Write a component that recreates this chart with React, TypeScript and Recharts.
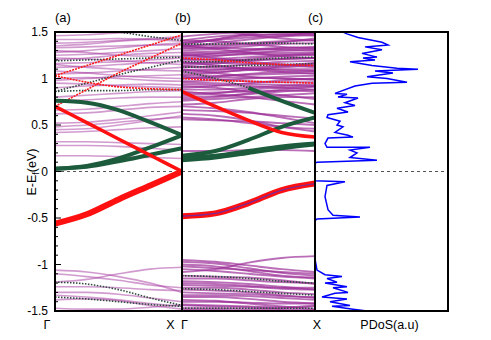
import React from "react";
import { LineChart, Line, XAxis, YAxis, ReferenceLine, ScatterChart, Scatter } from "recharts";

const FONT = "'Liberation Sans', Arial, sans-serif";

// k-path sample points (Γ = 0, X = 1)
const kPoints = [0, 0.25, 0.5, 0.75, 1];
const energyTicks = [-1.5, -1, -0.5, 0, 0.5, 1, 1.5];
const minorTicks = Array.from({ length: 31 }, (_, i) => Math.round((-1.5 + i * 0.1) * 10) / 10);

// ---- panel (a) ----
const aPurple = [
  [0.32, 0.32, 0.31, 0.3, 0.29],
  [0.28, 0.28, 0.27, 0.25, 0.23],
  [0.17, 0.17, 0.16, 0.15, 0.14],
  [0.42, 0.43, 0.45, 0.47, 0.48],
  [0.45, 0.46, 0.5, 0.55, 0.6],
  [0.48, 0.5, 0.53, 0.56, 0.58],
  [0.52, 0.53, 0.56, 0.6, 0.64],
  [0.62, 0.63, 0.66, 0.69, 0.7],
  [0.66, 0.67, 0.7, 0.73, 0.75],
  [0.76, 0.77, 0.79, 0.8, 0.8],
  [0.8, 0.82, 0.84, 0.86, 0.87],
  [0.9, 0.92, 0.93, 0.94, 0.93],
  [0.95, 0.94, 0.92, 0.91, 0.9],
  [0.98, 1.0, 1.02, 1.03, 1.04],
  [1.0, 1.01, 1.0, 0.98, 0.97],
  [1.05, 1.06, 1.08, 1.1, 1.12],
  [1.08, 1.06, 1.03, 1.01, 1.0],
  [1.12, 1.13, 1.15, 1.17, 1.18],
  [1.16, 1.17, 1.18, 1.2, 1.22],
  [1.2, 1.22, 1.25, 1.27, 1.28],
  [1.22, 1.21, 1.19, 1.17, 1.15],
  [1.25, 1.26, 1.28, 1.3, 1.32],
  [1.28, 1.3, 1.33, 1.36, 1.38],
  [1.33, 1.34, 1.35, 1.36, 1.36],
  [1.35, 1.37, 1.4, 1.42, 1.43],
  [1.38, 1.39, 1.41, 1.43, 1.45],
  [1.42, 1.42, 1.43, 1.42, 1.4],
  [1.46, 1.47, 1.49, 1.5, 1.52],
  [1.15, 1.12, 1.1, 1.09, 1.08],
  [1.3, 1.28, 1.25, 1.24, 1.24],
  [-1.06, -1.08, -1.13, -1.2, -1.3],
  [-1.1, -1.13, -1.17, -1.22, -1.25],
  [-1.19, -1.16, -1.1, -1.05, -1.03],
  [-1.24, -1.24, -1.25, -1.27, -1.28],
  [-1.3, -1.3, -1.32, -1.36, -1.4],
  [-1.33, -1.35, -1.38, -1.42, -1.45],
  [-1.47, -1.48, -1.48, -1.46, -1.43],
  [-1.38, -1.37, -1.39, -1.44, -1.48],
];
const aDotted = [
  [0.86, 0.87, 0.87, 0.88, 0.88],
  [0.86, 0.95, 1.04, 1.12, 1.2],
  [1.19, 1.2, 1.21, 1.22, 1.23],
  [1.56, 1.53, 1.5, 1.45, 1.41],
  [-1.19, -1.21, -1.27, -1.36, -1.44],
  [-1.35, -1.37, -1.4, -1.43, -1.45],
];
const aThinRed = [
  [1.03, 1.14, 1.25, 1.36, 1.47],
  [0.7, 0.88, 1.06, 1.22, 1.38],
  [1.03, 0.96, 0.91, 0.89, 0.88],
];
const aGreen = [
  [0.76, 0.74, 0.66, 0.53, 0.39],
  [0.03, 0.06, 0.14, 0.26, 0.39],
  [0.03, 0.05, 0.11, 0.18, 0.25],
];
const aRedUpper = [[0.7, 0.525, 0.35, 0.175, 0.0]];
const aRedLower = [[-0.56, -0.46, -0.3, -0.15, 0.0]];

// ---- panel (b) ----
const bPurple = [
  [0.62, 0.6, 0.55, 0.48, 0.43],
  [0.58, 0.56, 0.52, 0.48, 0.46],
  [0.56, 0.55, 0.54, 0.52, 0.5],
  [0.66, 0.65, 0.63, 0.6, 0.57],
  [0.7, 0.68, 0.64, 0.58, 0.52],
  [0.22, 0.22, 0.23, 0.23, 0.22],
  [0.72, 0.74, 0.78, 0.8, 0.8],
  [0.76, 0.78, 0.8, 0.82, 0.84],
  [0.78, 0.8, 0.84, 0.88, 0.91],
  [0.8, 0.81, 0.83, 0.86, 0.88],
  [0.82, 0.84, 0.88, 0.9, 0.92],
  [0.84, 0.85, 0.86, 0.87, 0.86],
  [0.88, 0.88, 0.9, 0.92, 0.94],
  [0.9, 0.92, 0.95, 0.98, 1.0],
  [0.94, 0.93, 0.92, 0.9, 0.88],
  [0.96, 0.95, 0.94, 0.93, 0.92],
  [0.97, 0.98, 1.0, 1.02, 1.03],
  [1.0, 1.01, 1.01, 1.0, 0.99],
  [1.0, 1.02, 1.05, 1.07, 1.08],
  [1.03, 1.03, 1.04, 1.05, 1.06],
  [1.04, 1.06, 1.1, 1.13, 1.16],
  [1.06, 1.07, 1.09, 1.12, 1.14],
  [1.08, 1.09, 1.12, 1.14, 1.17],
  [1.09, 1.1, 1.1, 1.09, 1.08],
  [1.12, 1.13, 1.15, 1.18, 1.19],
  [1.13, 1.12, 1.11, 1.1, 1.1],
  [1.14, 1.16, 1.19, 1.21, 1.22],
  [1.16, 1.18, 1.21, 1.24, 1.26],
  [1.17, 1.17, 1.16, 1.15, 1.14],
  [1.2, 1.21, 1.23, 1.25, 1.27],
  [1.21, 1.2, 1.2, 1.21, 1.22],
  [1.22, 1.24, 1.27, 1.3, 1.31],
  [1.24, 1.27, 1.3, 1.32, 1.33],
  [1.25, 1.25, 1.26, 1.26, 1.25],
  [1.27, 1.27, 1.28, 1.28, 1.28],
  [1.28, 1.29, 1.31, 1.33, 1.34],
  [1.3, 1.32, 1.35, 1.37, 1.38],
  [1.32, 1.34, 1.37, 1.39, 1.43],
  [1.33, 1.33, 1.32, 1.31, 1.3],
  [1.34, 1.38, 1.42, 1.45, 1.47],
  [1.35, 1.36, 1.38, 1.4, 1.41],
  [1.36, 1.42, 1.48, 1.52, 1.55],
  [1.38, 1.41, 1.44, 1.46, 1.5],
  [1.39, 1.42, 1.46, 1.48, 1.48],
  [1.41, 1.45, 1.47, 1.47, 1.46],
  [1.45, 1.48, 1.5, 1.5, 1.49],
  [1.02, 0.99, 0.97, 0.96, 0.96],
  [1.1, 1.06, 1.02, 1.0, 0.99],
  [1.18, 1.14, 1.1, 1.07, 1.05],
  [1.26, 1.22, 1.18, 1.15, 1.12],
  [1.36, 1.32, 1.28, 1.24, 1.22],
  [1.41, 1.4, 1.37, 1.34, 1.32],
  [1.55, 1.52, 1.47, 1.43, 1.41],
  [0.86, 0.83, 0.8, 0.76, 0.72],
  [0.92, 0.9, 0.86, 0.82, 0.78],
  [-0.95, -0.97, -1.01, -1.05, -1.08],
  [-0.97, -0.99, -1.04, -1.09, -1.12],
  [-1.0, -1.02, -1.07, -1.12, -1.14],
  [-1.02, -1.04, -1.06, -1.08, -1.1],
  [-1.08, -1.05, -0.98, -0.93, -0.91],
  [-1.05, -1.07, -1.1, -1.13, -1.15],
  [-1.15, -1.15, -1.17, -1.19, -1.2],
  [-1.18, -1.19, -1.21, -1.24, -1.27],
  [-1.2, -1.21, -1.23, -1.25, -1.25],
  [-1.22, -1.23, -1.24, -1.26, -1.27],
  [-1.25, -1.25, -1.27, -1.3, -1.32],
  [-1.27, -1.28, -1.3, -1.33, -1.36],
  [-1.3, -1.31, -1.32, -1.34, -1.35],
  [-1.33, -1.33, -1.34, -1.36, -1.38],
  [-1.35, -1.35, -1.37, -1.4, -1.42],
  [-1.4, -1.4, -1.41, -1.42, -1.42],
  [-1.43, -1.44, -1.45, -1.46, -1.44],
  [-1.44, -1.45, -1.46, -1.48, -1.49],
  [-1.47, -1.47, -1.48, -1.47, -1.45],
  [-1.38, -1.39, -1.42, -1.45, -1.48],
  [-1.12, -1.13, -1.14, -1.17, -1.21],
  [-1.49, -1.49, -1.5, -1.5, -1.5],
];
const bDotted = [
  [1.12, 1.13, 1.14, 1.15, 1.16],
  [1.18, 1.18, 1.2, 1.22, 1.23],
  [1.37, 1.37, 1.38, 1.38, 1.37],
  [1.08, 1.0, 0.9, 0.76, 0.63],
  [-1.12, -1.13, -1.15, -1.18, -1.2],
  [-1.26, -1.27, -1.29, -1.31, -1.33],
  [-1.47, -1.47, -1.47, -1.47, -1.47],
];
const bThinRed = [
  [1.0, 0.98, 0.97, 0.96, 0.95],
  [1.22, 1.2, 1.17, 1.15, 1.14],
];
const bGreen = [
  [0.17, 0.22, 0.34, 0.48, 0.58],
  [0.12, 0.15, 0.2, 0.25, 0.29],
  [0.15, 0.17, 0.22, 0.27, 0.3],
  [null, null, 0.9, 0.76, 0.63],
];
const bRedUpper = [[0.86, 0.7, 0.55, 0.42, 0.37]];
const bRedLower = [[-0.48, -0.45, -0.34, -0.2, -0.13]];

// ---- panel (c) PDoS ----
const dosEnergy = [
  1.5, 1.48, 1.44, 1.39, 1.36, 1.34, 1.31, 1.27, 1.23, 1.22, 1.2, 1.18, 1.14, 1.11, 1.1, 1.08, 1.06, 1.02, 1.0,
  0.96, 0.95, 0.92, 0.84, 0.83, 0.8, 0.79, 0.74, 0.71, 0.68, 0.64, 0.61, 0.58, 0.54, 0.5, 0.48, 0.42, 0.39, 0.37,
  0.36, 0.3, 0.26, 0.26, 0.23, 0.2, 0.15, 0.12, 0.1, 0.09, -0.1, -0.11, -0.15, -0.27, -0.41, -0.47, -0.49, -0.51,
  -0.53, -0.94, -1.06, -1.11, -1.13, -1.15, -1.19, -1.2, -1.24, -1.25, -1.3, -1.31, -1.35, -1.37, -1.4, -1.44,
  -1.45, -1.48, -1.5,
];
const dosValue = [
  28, 32, 43, 67, 73, 50, 67, 47, 62, 48, 60, 35, 57, 82, 103, 60, 78, 52, 72,
  92, 57, 40, 20, 32, 23, 43, 30, 40, 22, 33, 13, 12, 25, 22, 28, 20, 33, 38,
  13, 10, 12, 55, 35, 42, 35, 62, 2, 0, 0, 30, 12, 10, 13, 18, 45, 2,
  0, 0, 2, 10, 27, 12, 22, 10, 32, 18, 33, 20, 7, 32, 15, 35,
  17, 38, 52,
];
const dosData = dosEnergy.map((e, i) => ({ e, d: dosValue[i] }));

type Style = { stroke: string; width: number; opacity?: number; dash?: string };

function buildRows(groups: Record<string, (number | null)[][]>) {
  return kPoints.map((k, i) => {
    const row: Record<string, number | null> = { k };
    Object.entries(groups).forEach(([name, bands]) => {
      bands.forEach((b, j) => {
        row[`${name}${j}`] = b[i];
      });
    });
    return row;
  });
}

function bandLines(name: string, bands: (number | null)[][], s: Style) {
  return bands.map((_, j) => (
    <Line
      key={`${name}${j}`}
      dataKey={`${name}${j}`}
      type="monotone"
      stroke={s.stroke}
      strokeWidth={s.width}
      strokeOpacity={s.opacity ?? 1}
      strokeDasharray={s.dash}
      dot={false}
      activeDot={false}
      isAnimationActive={false}
    />
  ));
}

const purpleA: Style = { stroke: "#a6379f", width: 1.6, opacity: 0.5 };
const purpleB: Style = { stroke: "#9a2a95", width: 1.9, opacity: 0.68 };
const dotted: Style = { stroke: "#2e4a3c", width: 1.6, dash: "1.5 1.5" };
const thinRed: Style = { stroke: "#ff1a1a", width: 1.6, dash: "2 1" };
const green: Style = { stroke: "#1d5b3d", width: 4 };
const redMid: Style = { stroke: "#ff1010", width: 3.5 };
const redThick: Style = { stroke: "#ff1010", width: 6 };
const core: Style = { stroke: "#7a2a9a", width: 1.2 };

const rowsA = buildRows({ ap: aPurple, ad: aDotted, ar: aThinRed, ag: aGreen, au: aRedUpper, al: aRedLower });
const rowsB = buildRows({ bp: bPurple, bd: bDotted, br: bThinRed, bg: bGreen, bu: bRedUpper, bl: bRedLower, bc: bRedLower });

function EnergyTick(props: any) {
  const { x, y, payload } = props;
  const v = payload.value as number;
  const major = energyTicks.some((t) => Math.abs(t - v) < 1e-6);
  return (
    <g>
      <line x1={x} x2={x + (major ? 6 : 3)} y1={y} y2={y} stroke="#000" strokeWidth={1} />
      {major && (
        <text x={x - 7} y={y} dy={4} textAnchor="end" fontSize={12} fill="#000" fontFamily={FONT}>
          {String(v)}
        </text>
      )}
    </g>
  );
}

const zeroLine = <ReferenceLine y={0} stroke="#555" strokeDasharray="3 3" strokeWidth={1} />;
const M = { top: 32, right: 0, bottom: 29, left: 0 };

export default function App() {
  return (
    <div style={{ position: "absolute", left: 0, top: 0, width: 491, height: 340, background: "#fff" }}>
      <div style={{ position: "absolute", left: 0, top: 0 }}>
        <LineChart width={182} height={340} data={rowsA} margin={M}>
          <XAxis dataKey="k" type="number" domain={[0, 1]} hide />
          <YAxis
            type="number"
            domain={[-1.5, 1.5]}
            ticks={minorTicks}
            interval={0}
            width={55}
            tick={<EnergyTick />}
            tickSize={0}
            tickMargin={0}
            axisLine={false}
            tickLine={false}
            allowDataOverflow
          />
          {zeroLine}
          {bandLines("ap", aPurple, purpleA)}
          {bandLines("ad", aDotted, dotted)}
          {bandLines("ar", aThinRed, thinRed)}
          {bandLines("ag", aGreen, green)}
          {bandLines("au", aRedUpper, redMid)}
          {bandLines("al", aRedLower, redThick)}
        </LineChart>
      </div>
      <div style={{ position: "absolute", left: 182, top: 0 }}>
        <LineChart width={133} height={340} data={rowsB} margin={M}>
          <XAxis dataKey="k" type="number" domain={[0, 1]} hide />
          <YAxis type="number" domain={[-1.5, 1.5]} hide allowDataOverflow />
          {zeroLine}
          {bandLines("bp", bPurple, purpleB)}
          {bandLines("bd", bDotted, dotted)}
          {bandLines("br", bThinRed, thinRed)}
          {bandLines("bg", bGreen, green)}
          {bandLines("bu", bRedUpper, redMid)}
          {bandLines("bl", bRedLower, redThick)}
          {bandLines("bc", bRedLower, core)}
        </LineChart>
      </div>
      <div style={{ position: "absolute", left: 315, top: 0 }}>
        <ScatterChart width={133} height={340} margin={M}>
          <XAxis dataKey="d" type="number" domain={[0, 133]} hide />
          <YAxis dataKey="e" type="number" domain={[-1.5, 1.5]} hide allowDataOverflow />
          {zeroLine}
          <Scatter
            data={dosData}
            line={{ stroke: "#0000ff", strokeWidth: 1.5 }}
            lineType="joint"
            shape={() => <g />}
            isAnimationActive={false}
          />
        </ScatterChart>
      </div>
      <svg width={491} height={340} style={{ position: "absolute", left: 0, top: 0, pointerEvents: "none" }}>
        <g fill="none" stroke="#000" strokeWidth={2}>
          <rect x={55} y={32} width={127} height={279} />
          <rect x={182} y={32} width={133} height={279} />
          <rect x={315} y={32} width={133} height={279} />
        </g>
        <g fontFamily={FONT} fontSize={13} fill="#000">
          <text x={55} y={22}>(a)</text>
          <text x={175} y={22}>(b)</text>
          <text x={308} y={22}>(c)</text>
          <text x={47} y={328.5} textAnchor="middle" fontSize={12.5}>Γ</text>
          <text x={170.5} y={328.5} textAnchor="middle" fontSize={12.5}>X</text>
          <text x={184.5} y={328.5} textAnchor="middle" fontSize={12.5}>Γ</text>
          <text x={317} y={328.5} textAnchor="middle" fontSize={12.5}>X</text>
          <text x={389.5} y={328.5} textAnchor="middle" fontSize={12.5}>PDoS(a.u)</text>
          <text transform="translate(36,172) rotate(-90)" textAnchor="middle" fontSize={12.5}>
            E-E<tspan dy={3} fontSize={9}>f</tspan>
            <tspan dy={-3}>(eV)</tspan>
          </text>
        </g>
      </svg>
    </div>
  );
}
